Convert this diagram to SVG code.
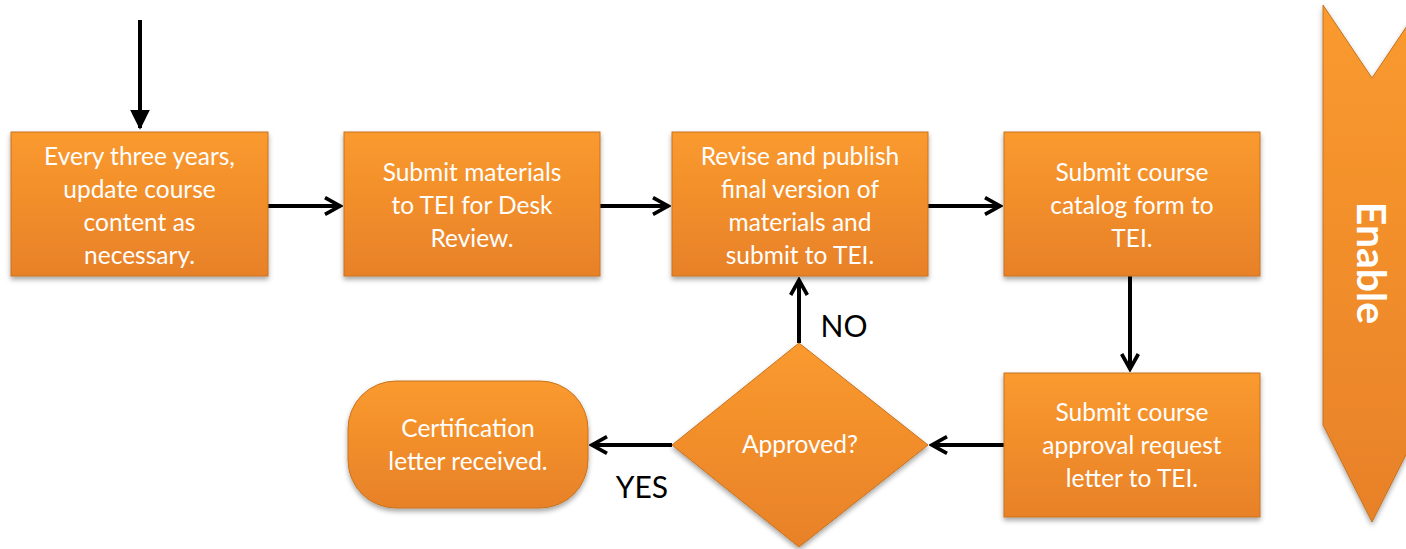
<svg xmlns="http://www.w3.org/2000/svg" width="1406" height="549" viewBox="0 0 1406 549">
<defs>
<linearGradient id="og" x1="0" y1="0" x2="0" y2="1">
<stop offset="0" stop-color="#FA9A2E"/>
<stop offset="1" stop-color="#E88128"/>
</linearGradient>
<filter id="sh" x="-10%" y="-10%" width="120%" height="125%">
<feDropShadow dx="0" dy="3" stdDeviation="2.5" flood-color="#000" flood-opacity="0.35"/>
</filter>
<marker id="ah" viewBox="0 0 12 12" refX="10" refY="6" markerWidth="5" markerHeight="5" orient="auto" markerUnits="strokeWidth">
<path d="M1,1 L10,6 L1,11" fill="none" stroke="#000" stroke-width="2.2" stroke-linejoin="miter"/>
</marker>
<marker id="tri" viewBox="0 0 12 12" refX="11" refY="6" markerWidth="5" markerHeight="5" orient="auto" markerUnits="strokeWidth">
<path d="M0,0 L12,6 L0,12 Z" fill="#000"/>
</marker>
</defs>
<style>
.box{fill:url(#og);stroke:#C8731E;stroke-width:1;filter:url(#sh)}
.t{font-family:Lato,"Open Sans","Liberation Sans",sans-serif;font-size:24.5px;fill:#fff;text-anchor:middle}
.en{font-family:Lato,"Open Sans","Liberation Sans",sans-serif;font-size:41px;font-weight:bold;fill:#fff;text-anchor:middle}
.lab{font-family:Lato,"Open Sans","Liberation Sans",sans-serif;font-size:30px;fill:#000;text-anchor:middle}
.c{stroke:#000;stroke-width:4;fill:none}
</style>
<rect width="1406" height="549" fill="#fff"/>
<g id="connectors">
<line class="c" x1="140" y1="20" x2="140" y2="128" marker-end="url(#tri)"/>
<line class="c" x1="268" y1="206" x2="340" y2="206" marker-end="url(#ah)"/>
<line class="c" x1="600" y1="206" x2="668" y2="206" marker-end="url(#ah)"/>
<line class="c" x1="928" y1="206" x2="1000" y2="206" marker-end="url(#ah)"/>
<line class="c" x1="1130" y1="276" x2="1130" y2="369" marker-end="url(#ah)"/>
<line class="c" x1="1004" y1="445" x2="932" y2="445" marker-end="url(#ah)"/>
<line class="c" x1="672" y1="445" x2="592" y2="445" marker-end="url(#ah)"/>
<line class="c" x1="799" y1="343" x2="799" y2="280" marker-end="url(#ah)"/>
<text class="lab" x="844" y="337">NO</text>
<text class="lab" x="642" y="498">YES</text>
</g>
<g id="n1">
<rect class="box" x="11" y="132" width="257" height="144"/>
<text class="t" x="139.5" y="165">Every three years,</text>
<text class="t" x="139.5" y="198">update course</text>
<text class="t" x="139.5" y="231">content as</text>
<text class="t" x="139.5" y="264">necessary.</text>
</g>
<g id="n2">
<rect class="box" x="344" y="132" width="256" height="144"/>
<text class="t" x="472" y="181">Submit materials</text>
<text class="t" x="472" y="214">to TEI for Desk</text>
<text class="t" x="472" y="247">Review.</text>
</g>
<g id="n3">
<rect class="box" x="672" y="132" width="256" height="144"/>
<text class="t" x="800" y="165">Revise and publish</text>
<text class="t" x="800" y="198">final version of</text>
<text class="t" x="800" y="231">materials and</text>
<text class="t" x="800" y="264">submit to TEI.</text>
</g>
<g id="n4">
<rect class="box" x="1004" y="132" width="256" height="144"/>
<text class="t" x="1132" y="181">Submit course</text>
<text class="t" x="1132" y="214">catalog form to</text>
<text class="t" x="1132" y="247">TEI.</text>
</g>
<g id="n5">
<rect class="box" x="1004" y="373" width="256" height="144"/>
<text class="t" x="1132" y="421">Submit course</text>
<text class="t" x="1132" y="454">approval request</text>
<text class="t" x="1132" y="487">letter to TEI.</text>
</g>
<g id="n6">
<polygon class="box" points="799,343 928,445 799,547 672,445"/>
<text class="t" x="800" y="453">Approved?</text>
</g>
<g id="n7">
<rect class="box" x="348" y="381" width="240" height="127" rx="48" ry="48"/>
<text class="t" x="468" y="437">Certification</text>
<text class="t" x="468" y="470">letter received.</text>
</g>
<g id="n8">
<polygon class="box" points="1323,5 1372,78 1421,5 1421,425 1372,522 1323,425"/>
<text class="en" x="1371" y="263" dy="14" transform="rotate(90 1371 263)">Enable</text>
</g>
</svg>
